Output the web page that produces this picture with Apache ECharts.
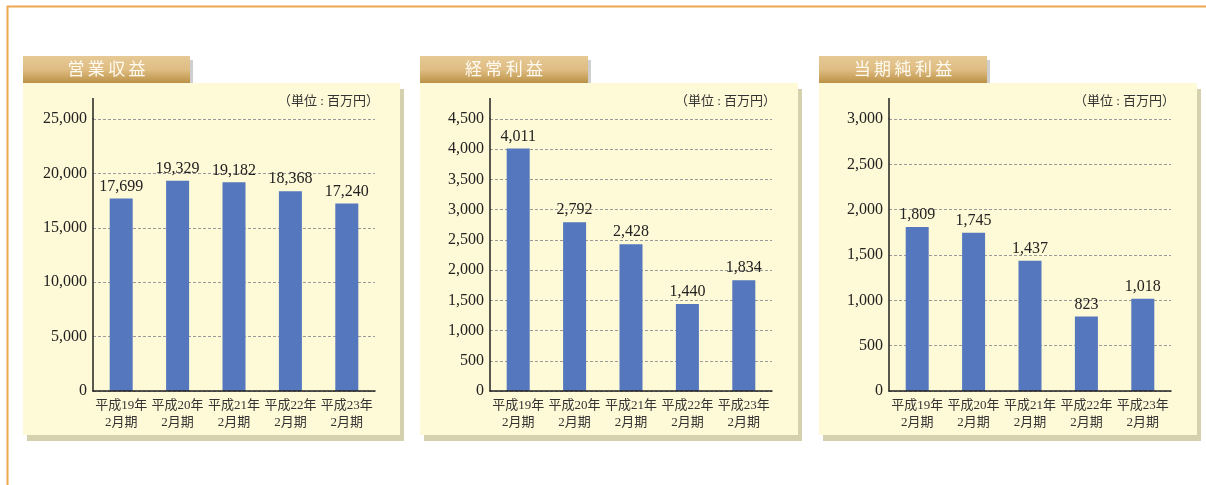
<!DOCTYPE html>
<html>
<head>
<meta charset="utf-8">
<script src="https://cdn.jsdelivr.net/npm/echarts@6/dist/echarts.min.js"></script>
<style>
  html, body { margin: 0; padding: 0; background: #fff; }
  #chart { width: 1206px; height: 485px; }
</style>
</head>
<body>
<div id="chart"></div>
<script>
// data
const categories = ["平成19年\n2月期", "平成20年\n2月期", "平成21年\n2月期", "平成22年\n2月期", "平成23年\n2月期"];
const titles = ["営業収益", "経常利益", "当期純利益"];
const unitText = "（単位 : 百万円）";
const revenue = [17699, 19329, 19182, 18368, 17240];
const ordinaryProfit = [4011, 2792, 2428, 1440, 1834];
const netProfit = [1809, 1745, 1437, 823, 1018];
const axisMax = [25000, 4500, 3000];
const axisStep = [5000, 500, 500];

const FONT = "'Liberation Serif', 'Noto Sans CJK JP', serif";
const seriesData = [revenue, ordinaryProfit, netProfit];

// layout of the three panels
const panels = [
  { x: 23, w: 377, tabW: 167, gridLeft: 93 },
  { x: 420, w: 378, tabW: 168, gridLeft: 490 },
  { x: 819, w: 378, tabW: 168, gridLeft: 889 }
];
const panelTop = 83, panelBottom = 435;
const gridTop = 119, gridBottom = 391, gridWidth = 282;

const fmt = v => Number(v).toLocaleString("en-US");

const chart = echarts.init(document.getElementById("chart"), null, { renderer: "canvas" });

const graphic = [];
// outer orange frame
graphic.push({ type: "line", shape: { x1: 7, y1: 6.5, x2: 1206, y2: 6.5 }, style: { stroke: "#eba84e", lineWidth: 2 }, z: -10 });
graphic.push({ type: "line", shape: { x1: 7.5, y1: 6, x2: 7.5, y2: 485 }, style: { stroke: "#eba84e", lineWidth: 2 }, z: -10 });

panels.forEach((p, i) => {
  // panel shadow + body (kept beneath the axes)
  graphic.push({ type: "rect", shape: { x: p.x + 4, y: panelTop + 6, width: p.w, height: panelBottom - panelTop }, style: { fill: "#d5d0ad" }, z: -10 });
  graphic.push({ type: "rect", shape: { x: p.x, y: panelTop, width: p.w, height: panelBottom - panelTop }, style: { fill: "#fef9d6" }, z: -9 });
  // title tab
  graphic.push({ type: "rect", shape: { x: p.x + p.tabW, y: 60, width: 3, height: 23 }, style: { fill: "#cfcfcf" }, z: -9 });
  graphic.push({
    type: "rect", shape: { x: p.x, y: 56, width: p.tabW, height: 27 },
    style: { fill: new echarts.graphic.LinearGradient(0, 0, 0, 1, [
      { offset: 0, color: "#e6c995" }, { offset: 0.5, color: "#dfbd83" }, { offset: 1, color: "#bb9146" }
    ]) }, z: -8
  });
  graphic.push({
    type: "text", x: p.x + p.tabW / 2, y: 71,
    style: { text: titles[i].split("").join("\u2009"), fill: "#fffaf0", font: "17px " + FONT, align: "center", verticalAlign: "middle" }, z: 10
  });
  // unit note
  graphic.push({
    type: "text", x: p.gridLeft + gridWidth + 4, y: 102,
    style: { text: unitText, fill: "#333", font: "13px " + FONT, align: "right", verticalAlign: "middle" }, z: 10
  });
  // y axis line running above the top tick
  graphic.push({ type: "line", shape: { x1: p.gridLeft, y1: 98, x2: p.gridLeft, y2: gridTop }, style: { stroke: "#222", lineWidth: 1.5 }, z: 10 });
});

const grids = panels.map(p => ({ left: p.gridLeft, top: gridTop, width: gridWidth, height: gridBottom - gridTop }));

const xAxes = panels.map((p, i) => ({
  type: "category", gridIndex: i, data: categories,
  axisLine: { lineStyle: { color: "#222", width: 1.5 } },
  axisTick: { show: false },
  axisLabel: { color: "#333", fontFamily: FONT, fontSize: 13, lineHeight: 17, margin: 6, interval: 0 },
  z: 6
}));

const yAxes = panels.map((p, i) => ({
  type: "value", gridIndex: i, min: 0, max: axisMax[i], interval: axisStep[i],
  axisLine: { show: true, lineStyle: { color: "#222", width: 1.5 } },
  axisTick: { show: false },
  axisLabel: { color: "#222", fontFamily: FONT, fontSize: 16, margin: 6, formatter: fmt },
  splitLine: { show: true, lineStyle: { color: "#9a9a9a", type: [3, 2], width: 1 } }
}));

const series = seriesData.map((d, i) => ({
  type: "bar", xAxisIndex: i, yAxisIndex: i, data: d, barWidth: 23,
  itemStyle: { color: "#5577bd" },
  label: { show: true, position: "top", distance: 4, color: "#222", fontFamily: FONT, fontSize: 16, formatter: p => fmt(p.value) },
  z: 5
}));

chart.setOption({
  animation: false,
  graphic: graphic,
  grid: grids,
  xAxis: xAxes,
  yAxis: yAxes,
  series: series
});
</script>
</body>
</html>
